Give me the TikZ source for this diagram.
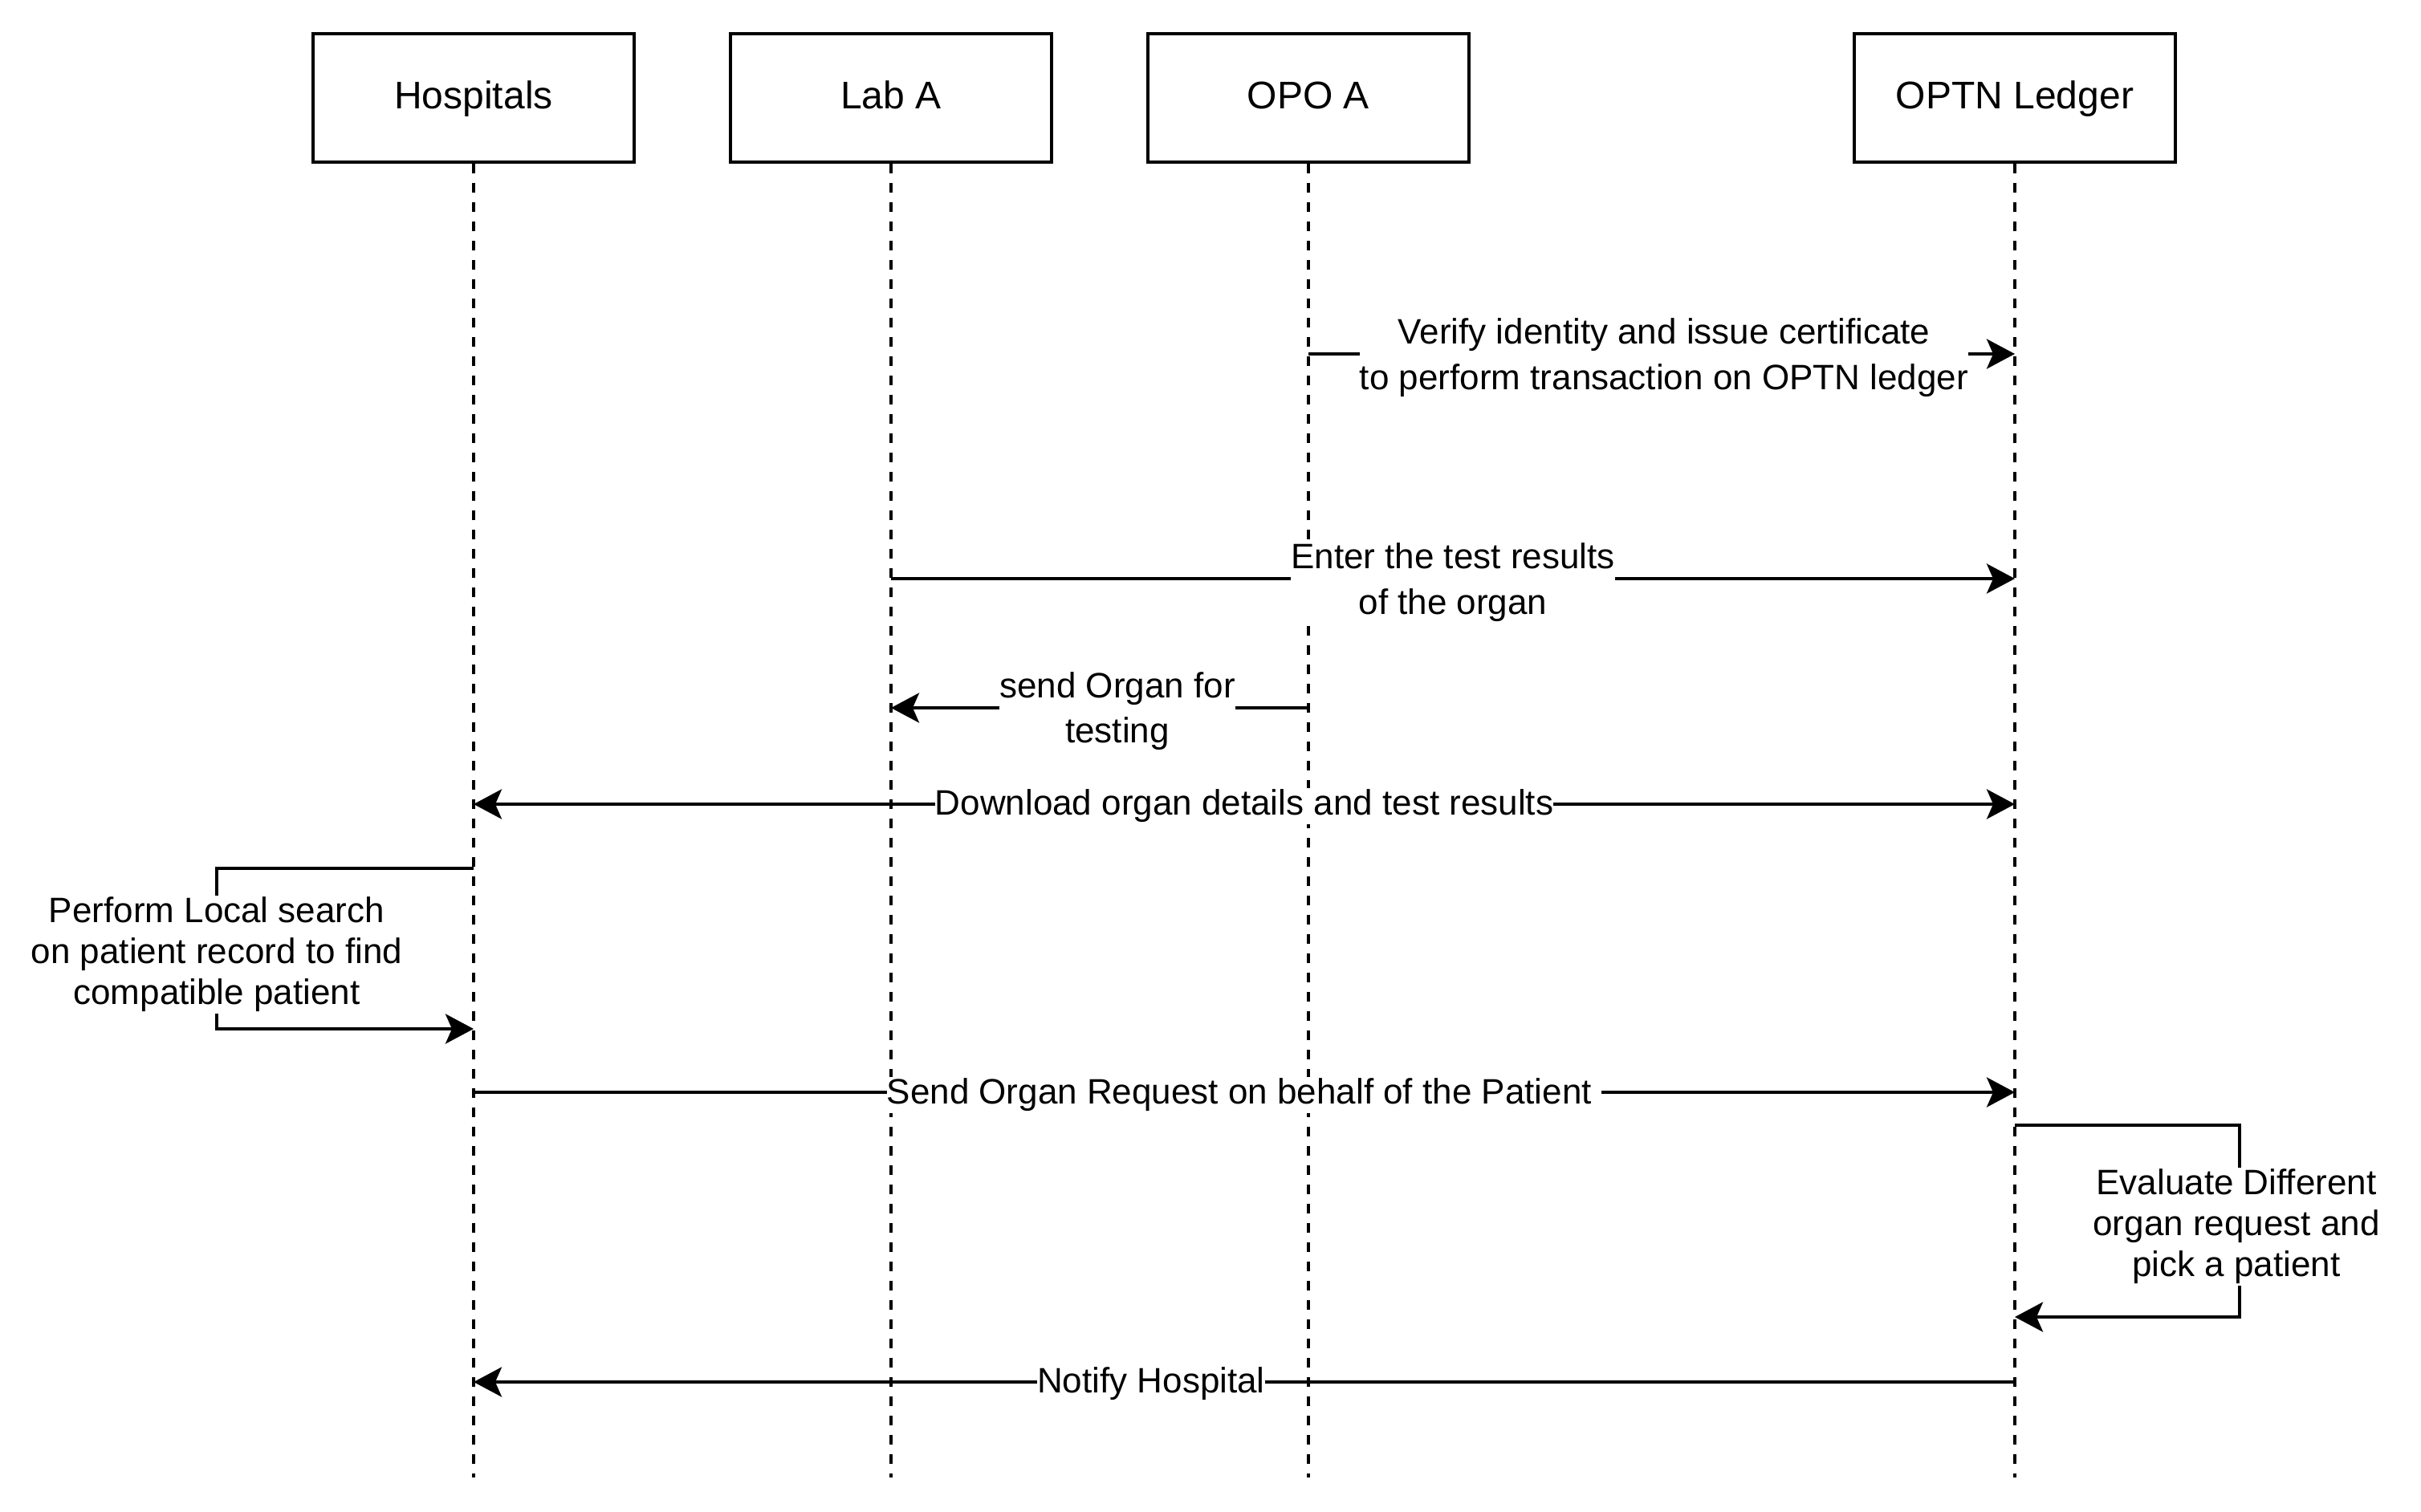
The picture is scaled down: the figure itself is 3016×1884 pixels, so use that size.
\documentclass[tikz,border=0pt]{standalone}
\usepackage{fontspec}
\setmainfont{Liberation Sans}
\usetikzlibrary{arrows.meta}
\begin{document}
\begin{tikzpicture}[x=0.5pt,y=-0.5pt,
  participant/.style={draw, line width=2pt, minimum width=200pt, minimum height=80pt, inner sep=0pt, text height=17pt, text depth=3pt, font=\fontsize{24}{28}\selectfont},
  lifeline/.style={line width=2pt, dash pattern=on 6pt off 6pt},
  tipa/.tip={Stealth[length=17.5pt,width=18.5pt,inset=4pt]},
  msg/.style={line width=2pt, -tipa},
  dmsg/.style={line width=2pt, tipa-tipa},
  lbl/.style={fill=white, inner xsep=0pt, inner ysep=1pt, align=center, font=\fontsize{22}{25.5}\selectfont},
  lblwide/.style={lbl, font=\fontsize{22}{28.5}\selectfont}
]
\fill[white] (0,0) rectangle (3016,1884);
\useasboundingbox (0,0) rectangle (3016,1884);

% participants
\node[participant] (hosp) at (590,122) {Hospitals};
\node[participant] (lab)  at (1110,122) {Lab A};
\node[participant] (opo)  at (1630,122) {OPO A};
\node[participant] (optn) at (2510,122) {OPTN Ledger};

\coordinate (hospEnd) at (590,1841);
\coordinate (labEnd)  at (1110,1841);
\coordinate (opoEnd)  at (1630,1841);
\coordinate (optnEnd) at (2510,1841);

\draw[lifeline] (hosp.south) -- (hospEnd);
\draw[lifeline] (lab.south) -- (labEnd);
\draw[lifeline] (opo.south) -- (opoEnd);
\draw[lifeline] (optn.south) -- (optnEnd);

% 1 verify
\coordinate (v1) at (1630,441);
\coordinate (v2) at (2510,441);
\draw[msg] (v1) -- (v2);
\node[lblwide] (lv) at (2073,446) {Verify identity and issue certificate\\to perform transaction on OPTN ledger};

% 2 enter
\coordinate (e1) at (1110,721);
\coordinate (e2) at (2510,721);
\draw[msg] (e1) -- (e2);
\node[lblwide] (le) at (1810,726) {Enter the test results\\of the organ};

% 3 send organ for testing
\coordinate (s1) at (1630,882);
\coordinate (s2) at (1110,882);
\draw[msg] (s1) -- (s2);
\node[lbl, font=\fontsize{22}{28}\selectfont] (ls) at (1392,886) {send Organ for\\testing};

% 4 download
\coordinate (d1) at (590,1002);
\coordinate (d2) at (2510,1002);
\draw[dmsg] (d1) -- (d2);
\node[lbl] (ld) at (1550,1004) {Download organ details and test results};

% 5 perform local search
\coordinate (p1) at (590,1082);
\coordinate (p2) at (590,1282);
\coordinate (pm) at (270,1185);
\draw[msg] (p1) -| (pm) |- (p2);
\node[lbl] (lp) at (270,1189) {Perform Local search\\on patient record to find\\compatible patient};

% 6 send organ request
\coordinate (r1) at (590,1361);
\coordinate (r2) at (2510,1361);
\draw[msg] (r1) -- (r2);
\node[lbl] (lr) at (1550,1364) {Send Organ Request on behalf of the Patient\kern0.28em};

% 7 evaluate
\coordinate (ev1) at (2510,1402);
\coordinate (ev2) at (2510,1641);
\coordinate (evm) at (2790,1526);
\draw[msg] (ev1) -| (evm) |- (ev2);
\node[lbl] (lev) at (2786,1528) {Evaluate Different\\organ request and\\pick a patient};

% 8 notify
\coordinate (n1) at (2510,1722);
\coordinate (n2) at (590,1722);
\draw[msg] (n1) -- (n2);
\node[lbl] (ln) at (1434,1724) {Notify Hospital};
\end{tikzpicture}
\end{document}
